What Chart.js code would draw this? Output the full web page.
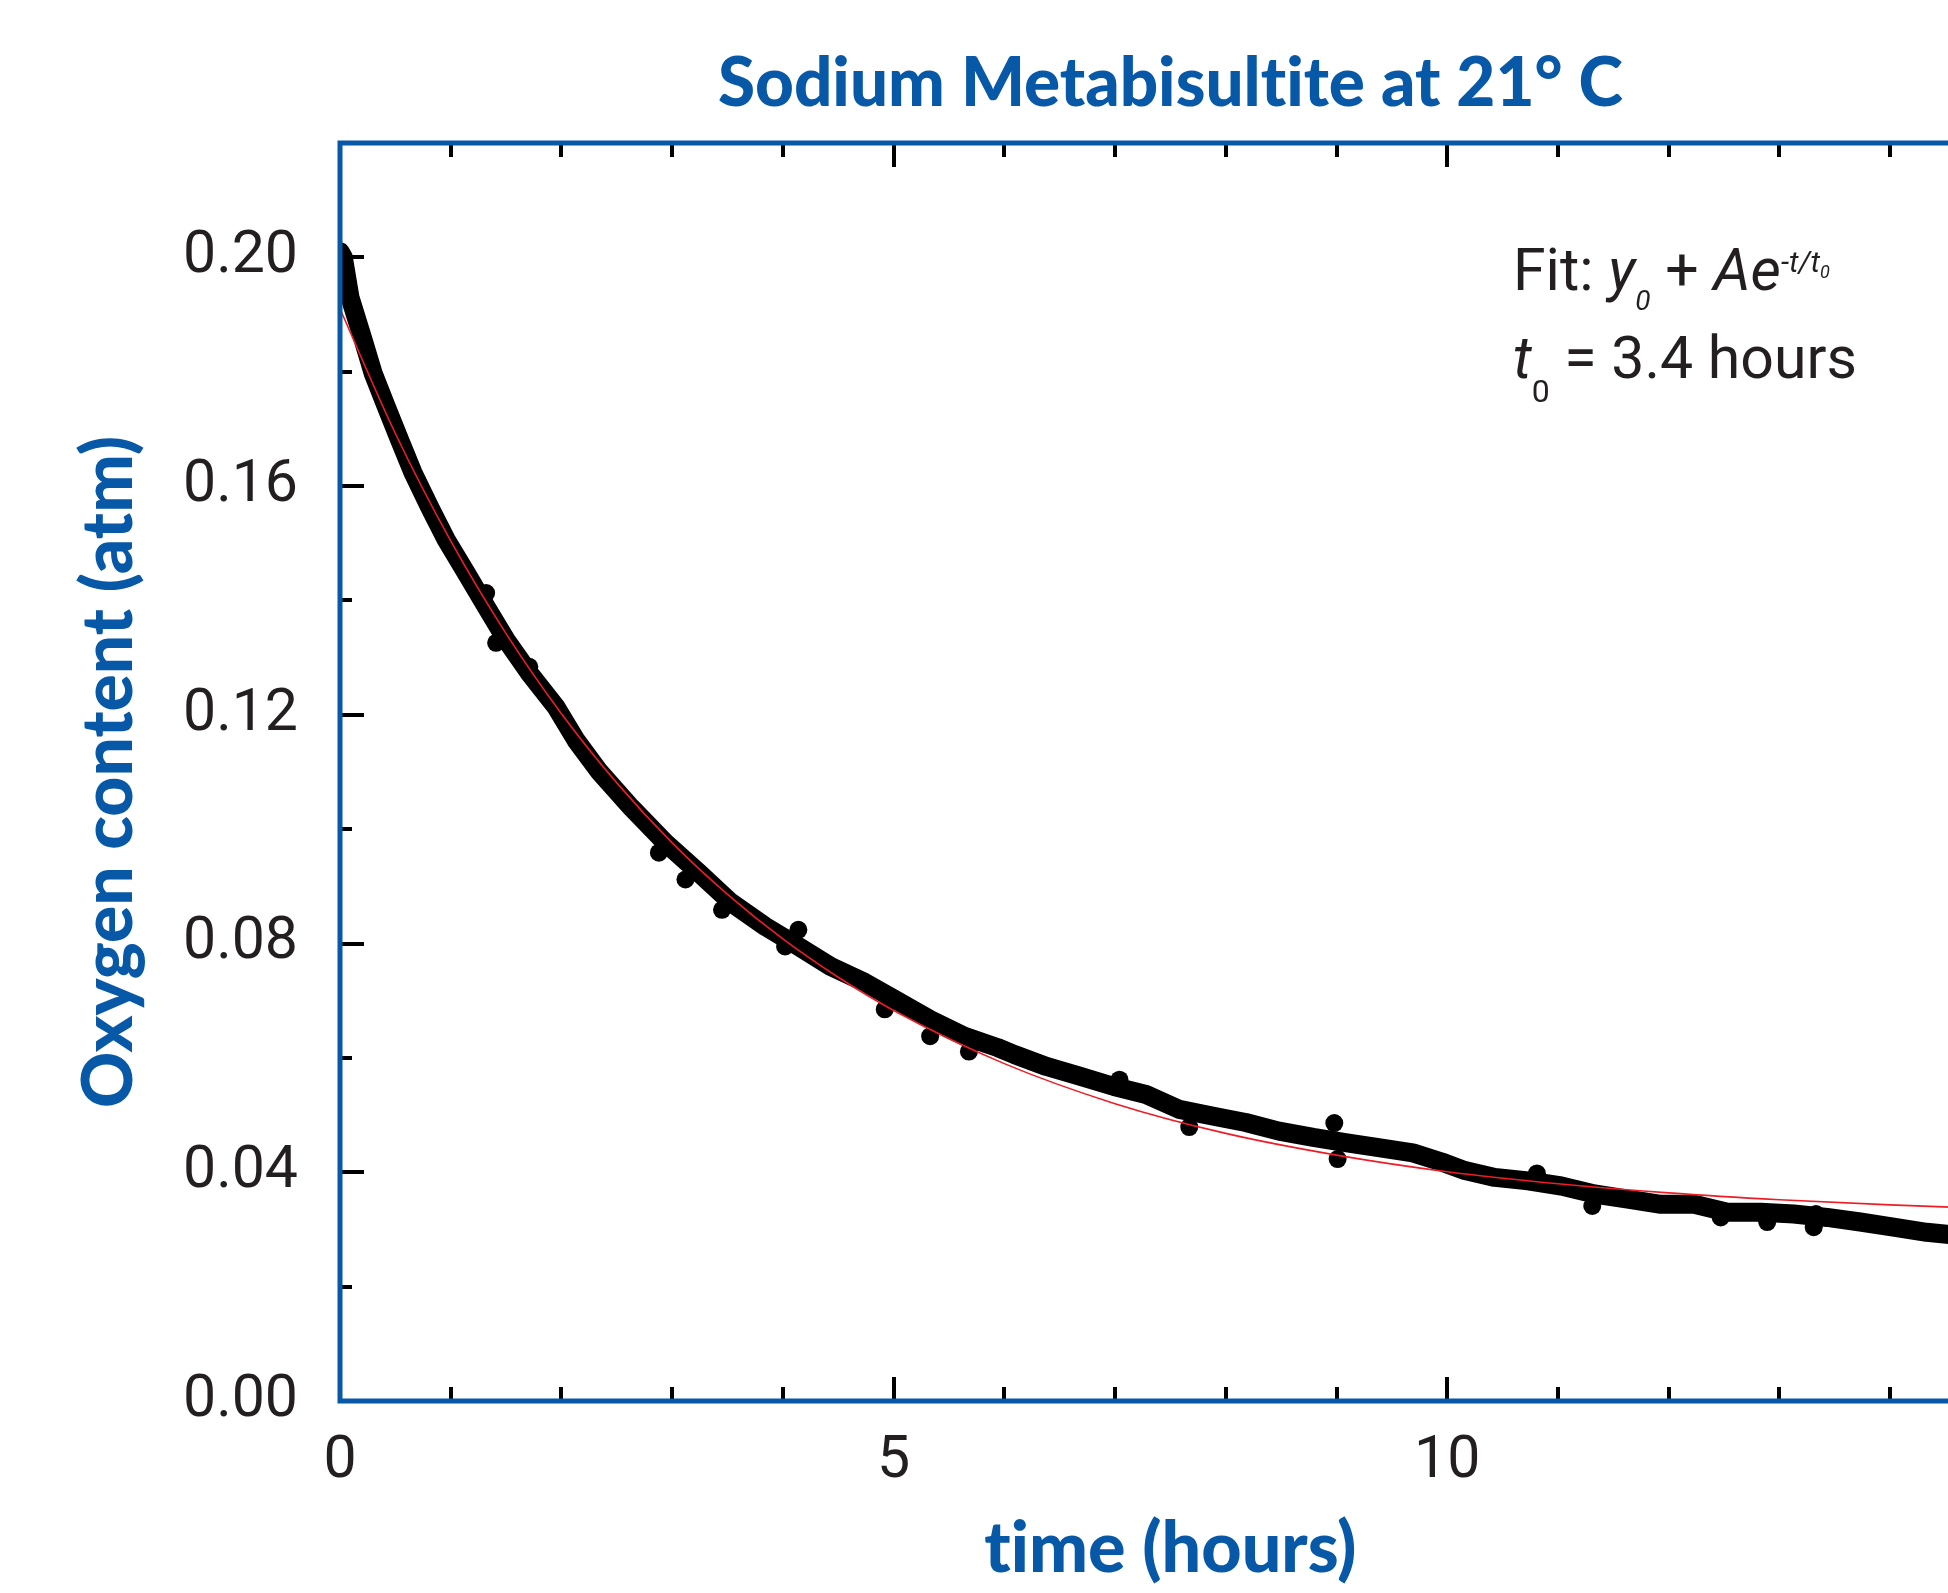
<!DOCTYPE html>
<html>
<head>
<meta charset="utf-8">
<script src="https://cdn.jsdelivr.net/npm/chart.js@4.4.1/dist/chart.umd.min.js"></script>
<style>
  html, body { margin: 0; padding: 0; background: #fff; overflow: hidden; }
  #wrap { position: relative; width: 2060px; height: 1593px; }
</style>
</head>
<body>
<div id="wrap"><canvas id="o2_chart"></canvas></div>
<script>
var timeHours = [0.00, 0.03, 0.09, 0.21, 0.30, 0.42, 0.54, 0.66, 0.81, 0.96, 1.14, 1.32, 1.50, 1.71, 1.95, 2.13, 2.34, 2.63, 2.94, 3.24, 3.53, 3.84, 4.14, 4.43, 4.74, 5.04, 5.33, 5.64, 5.94, 6.09, 6.38, 6.68, 6.99, 7.28, 7.58, 7.89, 8.18, 8.48, 8.79, 9.08, 9.38, 9.69, 9.95, 10.16, 10.43, 10.73, 11.03, 11.33, 11.63, 11.93, 12.23, 12.53, 12.83, 13.13, 13.43, 13.73, 14.03, 14.33, 14.60];
var oxygenAtm = [0.201, 0.200, 0.193, 0.1855, 0.1797, 0.1738, 0.1680, 0.1623, 0.1563, 0.1506, 0.1448, 0.1389, 0.1331, 0.1273, 0.1214, 0.1156, 0.1101, 0.1038, 0.0976, 0.0924, 0.0872, 0.0830, 0.0795, 0.0760, 0.0732, 0.0699, 0.0667, 0.0638, 0.0618, 0.0606, 0.0585, 0.0568, 0.0550, 0.0536, 0.0510, 0.0498, 0.0487, 0.0472, 0.0461, 0.0452, 0.0443, 0.0434, 0.0418, 0.0403, 0.0391, 0.0385, 0.0376, 0.0362, 0.0353, 0.0344, 0.0344, 0.0330, 0.0330, 0.0327, 0.0321, 0.0313, 0.0304, 0.0295, 0.0290];

// noisy points sticking out of the band
var strayHours = [1.32, 1.41, 1.71, 2.88, 3.12, 3.45, 4.02, 4.14, 4.92, 5.33, 5.68, 7.04, 7.67, 8.98, 9.01, 10.81, 11.31, 12.47, 12.89, 13.31, 13.33];
var strayOxygen = [0.1413, 0.1326, 0.1284, 0.0959, 0.0912, 0.0859, 0.0795, 0.0824, 0.0685, 0.0638, 0.0611, 0.0562, 0.0479, 0.0486, 0.0423, 0.0398, 0.0341, 0.0321, 0.0313, 0.0304, 0.0327];

// red fit curve
var fitHours = [0, 0.5, 1, 1.5, 2, 2.5, 3, 3.5, 4, 4.5, 5, 6, 7, 8, 9, 10, 11, 12, 13, 14, 15];
var fitOxygen = [0.191, 0.1692, 0.1504, 0.1342, 0.1202, 0.1081, 0.0976, 0.0886, 0.0808, 0.0741, 0.0683, 0.0590, 0.0520, 0.0468, 0.0430, 0.0401, 0.0380, 0.0364, 0.0352, 0.0343, 0.0336];

var yLabels = ['0.00', '0.04', '0.08', '0.12', '0.16', '0.20'];
var xLabels = ['0', '5', '10', '15'];

var BLUE = '#0759a8';
var INK = '#231f20';
var ZWNJ = '\u200C'; // keeps Lato from merging "ti"

function pairs(xs, ys) {
    return xs.map(function (x, i) { return {x: x, y: ys[i]}; });
}

var decor = {
    id: 'decor',
    afterDatasetsDraw: function (chart) {
        var ctx = chart.ctx, a = chart.chartArea;
        var xs = chart.scales.x, ys = chart.scales.y;
        ctx.save();
        // inward ticks
        ctx.strokeStyle = '#000';
        ctx.lineWidth = 4;
        ctx.beginPath();
        ys.ticks.forEach(function (t) {
            if (t.value <= 0 || t.value >= 0.219) return;
            var y = Math.round(ys.getPixelForValue(t.value));
            var len = t.label !== '' ? 24 : 12;
            ctx.moveTo(a.left, y); ctx.lineTo(a.left + len, y);
            ctx.moveTo(a.right, y); ctx.lineTo(a.right - len, y);
        });
        xs.ticks.forEach(function (t) {
            if (t.value <= 0 || t.value >= 15) return;
            var x = Math.round(xs.getPixelForValue(t.value));
            var len = t.value % 5 === 0 ? 24 : 14;
            ctx.moveTo(x, a.bottom); ctx.lineTo(x, a.bottom - len);
            ctx.moveTo(x, a.top); ctx.lineTo(x, a.top + len);
        });
        ctx.stroke();
        // frame
        ctx.strokeStyle = BLUE;
        ctx.lineWidth = 5;
        ctx.strokeRect(a.left, a.top, a.right - a.left, a.bottom - a.top);

        // title and axis titles
        var cx = (a.left + a.right) / 2;
        ctx.fillStyle = BLUE;
        ctx.textAlign = 'center';
        ctx.textBaseline = 'alphabetic';
        ctx.font = '900 68px Lato';
        ctx.fillText('Sodium Metabisult' + ZWNJ + 'it' + ZWNJ + 'e at 21° C', cx, 106, 905);
        ctx.font = '900 70px Lato';
        ctx.fillText('t' + ZWNJ + 'ime (hours)', cx, 1572, 378);
        ctx.save();
        ctx.translate(132, (a.top + a.bottom) / 2);
        ctx.rotate(-Math.PI / 2);
        ctx.fillText('Oxygen content (atm)', 0, 0, 672);
        ctx.restore();

        // fit note
        ctx.fillStyle = INK;
        ctx.textAlign = 'left';
        var x = 1513, b1 = 290, b2 = 378;
        function seg(txt, font, dy) {
            ctx.font = font;
            ctx.fillText(txt, x, b1 + dy);
            x += ctx.measureText(txt).width;
        }
        seg('Fit: ', '400 59px Roboto', 0);
        seg('y', 'italic 400 59px Roboto', 0);
        seg('0', 'italic 400 28px Roboto', 20);
        seg(' + ', '400 59px Roboto', 0);
        seg('Ae', 'italic 400 59px Roboto', 0);
        seg('-t/t', 'italic 400 30px Roboto', -18);
        seg('0', 'italic 400 18px Roboto', -12);
        x = 1513; b1 = b2;
        seg('t', 'italic 400 59px Roboto', 0);
        seg('0', '400 32px Roboto', 24);
        seg(' = 3.4 hours', '400 59px Roboto', 0);
        ctx.restore();
    }
};

document.addEventListener('DOMContentLoaded', function () {
    var chx = document.getElementById('o2_chart');
    new Chart(chx, {
        type: 'scatter',
        data: {
            datasets: [{
                label: 'fit',
                data: pairs(fitHours, fitOxygen),
                showLine: true,
                borderColor: '#ee1c25',
                borderWidth: 1.6,
                pointRadius: 0,
                cubicInterpolationMode: 'monotone',
                order: 0
            }, {
                label: 'stray',
                data: pairs(strayHours, strayOxygen),
                backgroundColor: '#000',
                borderWidth: 0,
                pointRadius: 9,
                order: 2
            }, {
                label: 'oxygen',
                data: pairs(timeHours, oxygenAtm),
                showLine: true,
                borderColor: '#000',
                borderWidth: 19,
                borderJoinStyle: 'round',
                borderCapStyle: 'round',
                pointRadius: 0,
                order: 1
            }]
        },
        options: {
            responsive: true,
            maintainAspectRatio: false,
            animation: false,
            layout: { padding: { left: 0, top: 143, right: 55, bottom: 0 } },
            plugins: { legend: { display: false }, tooltip: { enabled: false } },
            scales: {
                x: {
                    type: 'linear', min: 0, max: 15,
                    grid: { display: false, drawTicks: false },
                    border: { display: false },
                    afterFit: function (s) { s.height = 192; },
                    ticks: {
                        stepSize: 1, padding: 26, color: INK,
                        font: { family: 'Roboto', size: 59 },
                        maxRotation: 0, autoSkip: false,
                        callback: function (v) {
                            var i = xLabels.indexOf(String(v));
                            return i >= 0 ? xLabels[i] : '';
                        }
                    }
                },
                y: {
                    type: 'linear', min: 0, max: 0.22,
                    grid: { display: false, drawTicks: false },
                    border: { display: false },
                    afterFit: function (s) { s.width = 340; },
                    ticks: {
                        stepSize: 0.02, padding: 42, color: INK,
                        font: { family: 'Roboto', size: 59 },
                        autoSkip: false,
                        callback: function (v) {
                            var s = v.toFixed(2);
                            return yLabels.indexOf(s) >= 0 ? s : '';
                        }
                    }
                }
            }
        },
        plugins: [decor]
    });
});
</script>
</body>
</html>
